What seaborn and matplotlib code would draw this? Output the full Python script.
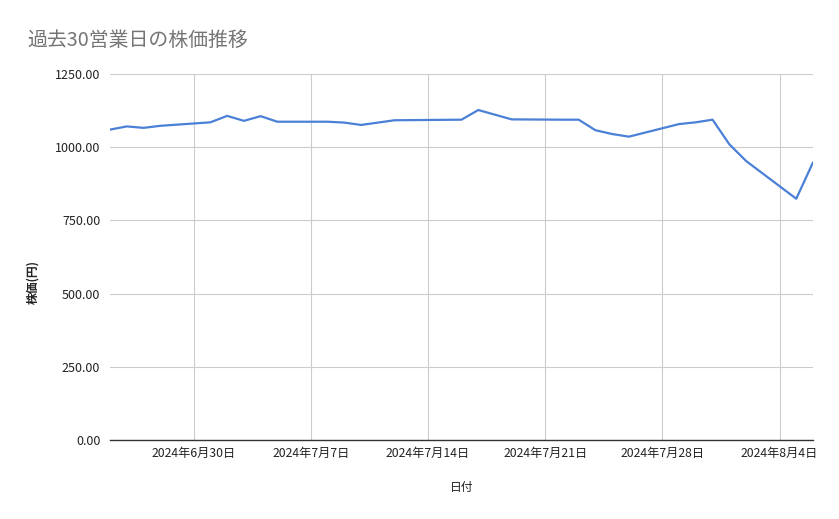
import pandas as pd
import numpy as np
import matplotlib
matplotlib.use("Agg")
import matplotlib.pyplot as plt
import matplotlib.dates as mdates
from matplotlib.ticker import FuncFormatter, MultipleLocator
import seaborn as sns

# 過去30営業日 (土日・祝日を除く)
dates = [
    "2024-06-25", "2024-06-26", "2024-06-27", "2024-06-28",
    "2024-07-01", "2024-07-02", "2024-07-03", "2024-07-04", "2024-07-05",
    "2024-07-08", "2024-07-09", "2024-07-10", "2024-07-11", "2024-07-12",
    "2024-07-16", "2024-07-17", "2024-07-18", "2024-07-19",
    "2024-07-22", "2024-07-23", "2024-07-24", "2024-07-25", "2024-07-26",
    "2024-07-29", "2024-07-30", "2024-07-31", "2024-08-01", "2024-08-02",
    "2024-08-05", "2024-08-06",
]
prices = [
    1060, 1071, 1066, 1073,
    1085, 1107, 1090, 1106, 1087,
    1087, 1084, 1076, 1084, 1092,
    1094, 1127, 1111, 1095,
    1094, 1094, 1058, 1045, 1036,
    1079, 1085, 1094, 1010, 953,
    824, 948,
]
week_ticks = ["2024-06-30", "2024-07-07", "2024-07-14", "2024-07-21", "2024-07-28", "2024-08-04"]

df = pd.DataFrame({"日付": pd.to_datetime(dates), "株価": prices})

sns.set_theme(style="white")
plt.rcParams["font.family"] = ["Noto Sans CJK JP", "DejaVu Sans"]

fig = plt.figure(figsize=(8.39, 5.19), dpi=100)
ax = fig.add_axes([110 / 839, 1 - 440 / 519, (813 - 110) / 839, (440 - 74) / 519])

sns.lineplot(data=df, x="日付", y="株価", ax=ax, color="#4a80d6", linewidth=1.6)

ax.set_xlim(df["日付"].iloc[0], df["日付"].iloc[-1])
ax.set_ylim(0, 1250)
ax.yaxis.set_major_locator(MultipleLocator(250))
ax.yaxis.set_major_formatter(FuncFormatter(lambda v, p: f"{v:.2f}"))
ax.set_xticks(pd.to_datetime(week_ticks))
ax.xaxis.set_major_formatter(FuncFormatter(
    lambda v, p: (lambda d: f"{d.year}年{d.month}月{d.day}日")(mdates.num2date(v))))

ax.grid(True, color="#cccccc", linewidth=0.8)
ax.set_axisbelow(True)
for s in ["top", "right", "left"]:
    ax.spines[s].set_visible(False)
ax.spines["bottom"].set_color("#333333")
ax.spines["bottom"].set_linewidth(1.0)
ax.spines["bottom"].set_zorder(3)

ax.tick_params(axis="both", length=0, labelcolor="#222222")
ax.tick_params(axis="x", pad=5, labelsize=8.8)
ax.tick_params(axis="y", pad=7, labelsize=9)

ax.set_xlabel("")
ax.set_ylabel("")
fig.text(462 / 839, 1 - 487 / 519, "日付", ha="center", va="center", fontsize=8.5, color="#222222")
fig.text(33 / 839, 1 - 282 / 519, "株価(円)", ha="center", va="center", rotation=90,
         fontsize=8.5, fontweight="bold", color="#222222")
fig.text(27 / 839, 1 - 40 / 519, "過去30営業日の株価推移", ha="left", va="center",
         fontsize=14.3, color="#757575")

fig.savefig("out.png", dpi=100)
